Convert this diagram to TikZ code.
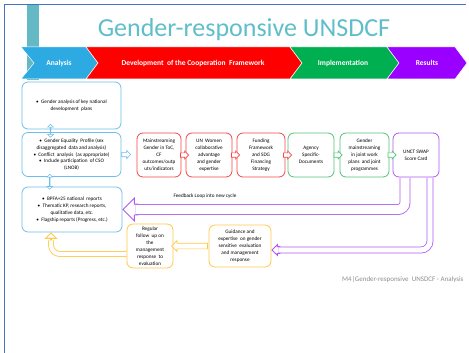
\documentclass[tikz,border=0pt]{standalone}
\usepackage{fontspec}
\setmainfont{Carlito}
\usetikzlibrary{positioning,calc,shapes.arrows}

\definecolor{titleteal}{RGB}{95,190,202}
\definecolor{barteal}{RGB}{100,185,196}
\definecolor{frameblue}{RGB}{70,115,190}
\definecolor{anablue}{RGB}{45,170,225}
\definecolor{devred}{RGB}{255,0,0}
\definecolor{impgreen}{RGB}{0,176,80}
\definecolor{respurple}{RGB}{153,0,255}
\definecolor{cardblue}{RGB}{110,190,235}
\definecolor{cardred}{RGB}{245,70,70}
\definecolor{cardgreen}{RGB}{80,195,120}
\definecolor{cardpurple}{RGB}{175,90,245}
\definecolor{cardyellow}{RGB}{255,200,70}
\definecolor{footgray}{RGB}{140,140,140}

\tikzset{
  stage/.style={fill=#1,draw=white,line width=0.5pt},
  stagetext/.style={text=white,font=\fontsize{7.5}{9}\selectfont\bfseries},
  card/.style={draw=#1,fill=white,rounded corners=6pt,line width=0.8pt,align=center,
    font=\fontsize{5.2}{6.9}\selectfont,inner sep=1pt},
  boxarrow/.style={single arrow,draw=#1,fill=white,line width=0.7pt,
    inner xsep=0pt,inner ysep=1.8pt,single arrow head extend=1.8pt,minimum height=8pt},
  twoway/.style={double arrow,draw=cardblue,fill=white,line width=0.7pt,
    inner xsep=0pt,inner ysep=2pt,double arrow head extend=2.5pt,
    shape border rotate=90,minimum height=13pt},
  loophead/.style={single arrow,draw=#1,fill=white,line width=0.8pt,inner xsep=0pt},
  loopline/.style={draw=#1,line width=0.8pt,double=white,rounded corners=7pt},
}

\begin{document}
\begin{tikzpicture}[x=1pt,y=-1pt]
\useasboundingbox (0,0) rectangle (469,353);
% frame and header
\draw[frameblue,line width=1pt] (4,353) -- (4,5) -- (466,5);
\fill[barteal] (27,5) rectangle (39,80);
\node[text=titleteal,font=\fontsize{26}{30}\selectfont] (title) at (244,30) {Gender-responsive UNSDCF};

% stages
\path[stage=anablue] (21,47) -- (86,47) -- (98,63) -- (86,79) -- (21,79) -- (34,63) -- cycle;
\path[stage=devred] (86,47) -- (290,47) -- (302,63) -- (290,79) -- (86,79) -- (98,63) -- cycle;
\path[stage=impgreen] (290,47) -- (387,47) -- (399,63) -- (387,79) -- (290,79) -- (302,63) -- cycle;
\path[stage=respurple] (387,47) -- (455,47) -- (467,63) -- (455,79) -- (387,79) -- (399,63) -- cycle;
\node[stagetext] (sana) at (59,63) {Analysis};
\node[stagetext] (sdev) at (193,63) {Development\ \ of the Cooperation\ \ Framework};
\node[stagetext] (simp) at (343,63) {Implementation};
\node[stagetext] (sres) at (427,63) {Results};

% analysis column
\node[card=cardblue,minimum width=99pt,minimum height=47pt] (a1) at (71.5,105.5)
  {\textbullet\ \ Gender analysis of key national\\ development\ \ plans};
\node[card=cardblue,minimum width=99pt,minimum height=44pt] (a2) at (71.5,154.5)
  {\textbullet\ \ Gender Equality\ \ Profile (sex\\ disaggregated\ \ data and analysis)\\
   \textbullet\ \ Conflict\ \ analysis\ \ (as appropriate)\\
   \textbullet\ \ Include participation\ \ of CSO\\ (LNOB)};
\node[card=cardblue,minimum width=100pt,minimum height=45pt] (a3) at (72,209.5)
  {\textbullet\ \ BPFA+25 national\ \ reports\\
   \textbullet\ \ Thematic KP, research reports,\\ qualitative data, etc.\\
   \textbullet\ \ Flagship reports (Progress, etc.)};

% cooperation framework row
\node[card=cardred,minimum width=44pt,minimum height=44pt] (r1) at (159,155)
  {Mainstreaming\\ Gender in ToC,\\ CF\\ outcomes/outp\\ uts/indicators};
\node[card=cardred,minimum width=46pt,minimum height=44pt] (r2) at (209,155)
  {UN\ \ Women\\ collaborative\\ advantage\\ and gender\\ expertise};
\node[card=cardred,minimum width=48pt,minimum height=44pt] (r3) at (261,155)
  {Funding\\ Framework\\ and SDG\\ Financing\\ Strategy};
\node[card=cardgreen,minimum width=46pt,minimum height=44pt] (g1) at (311,155)
  {Agency\\ Specific-\\ Documents};
\node[card=cardgreen,minimum width=49pt,minimum height=44pt] (g2) at (364.5,155)
  {Gender\\ mainstreaming\\ in joint work\\ plans\ \ and joint\\ programmes};
\node[card=cardpurple,minimum width=46pt,minimum height=44pt] (p) at (416,155)
  {UNCT SWAP\\ Score Card};

% evaluation row
\node[card=cardyellow,minimum width=46pt,minimum height=44pt] (y1) at (150,246)
  {Regular\\ follow\ \ up on\\ the\\ management\\ response\ \ to\\ evaluation};
\node[card=cardyellow,minimum width=62pt,minimum height=42pt] (y2) at (240,246)
  {Guidance and\\ expertise\ \ on gender\\ sensitive\ \ evaluation\\ and management\\ response};

% short block arrows
\node[twoway] (d12) at ($(a1.south)!0.5!(a2.north)+(-21,0)$) {};
\node[twoway,minimum height=15pt] (d23) at ($(a2.south)!0.5!(a3.north)+(-22,0)$) {};
\node[boxarrow=cardblue,anchor=tail,minimum height=9pt] (ar1) at (a2.east) {};
\node[boxarrow=cardred] (ar12) at ($(r1.east)!0.5!(r2.west)$) {};
\node[boxarrow=cardred] (ar23) at ($(r2.east)!0.5!(r3.west)$) {};
\node[boxarrow=cardred] (ar3g) at ($(r3.east)!0.5!(g1.west)$) {};
\node[boxarrow=cardgreen] (ag12) at ($(g1.east)!0.5!(g2.west)$) {};
\node[boxarrow=cardgreen] (ag2p) at ($(g2.east)!0.5!(p.west)$) {};
\node[boxarrow=cardyellow,minimum height=36pt,inner ysep=2.5pt,single arrow head extend=2.5pt,
  shape border rotate=180] (ayy) at ($(y1.east)!0.5!(y2.west)$) {};

% feedback loops
\node[font=\fontsize{5.2}{6}\selectfont] (fbtext) at (205,196) {Feedback Loop into new cycle};
\node[loophead=cardpurple,inner ysep=5pt,single arrow head extend=6pt,minimum height=15pt,
  shape border rotate=180,anchor=tip] (fbtip) at (a3.east) {};
\draw[loopline=cardpurple,double distance=9.2pt] ($(p.south)+(-11,0.5)$) |- ([xshift=-3pt]fbtip.tail);
\node[loophead=cardpurple,inner ysep=3pt,single arrow head extend=2pt,minimum height=8pt,
  shape border rotate=180,anchor=tip] (evtip) at ([yshift=-4pt]y2.east) {};
\draw[loopline=cardpurple,double distance=5.2pt,rounded corners=9pt] ($(p.south)+(14,0.5)$) |- ([xshift=-2pt]evtip.tail);
\node[loophead=cardyellow,inner ysep=2.5pt,single arrow head extend=5pt,minimum height=10pt,
  shape border rotate=90,anchor=tip] (uptip) at ($(a3.south)+(-21,0)$) {};
\draw[loopline=cardyellow,double distance=4.2pt,rounded corners=9pt] ([yshift=-8pt]y1.west) -| ([yshift=3pt]uptip.tail);

% footer
\node[anchor=east,text=footgray,font=\fontsize{7}{8}\selectfont] (foot) at (467,280)
  {M4|Gender-responsive\ \ UNSDCF - Analysis};
\end{tikzpicture}
\end{document}
